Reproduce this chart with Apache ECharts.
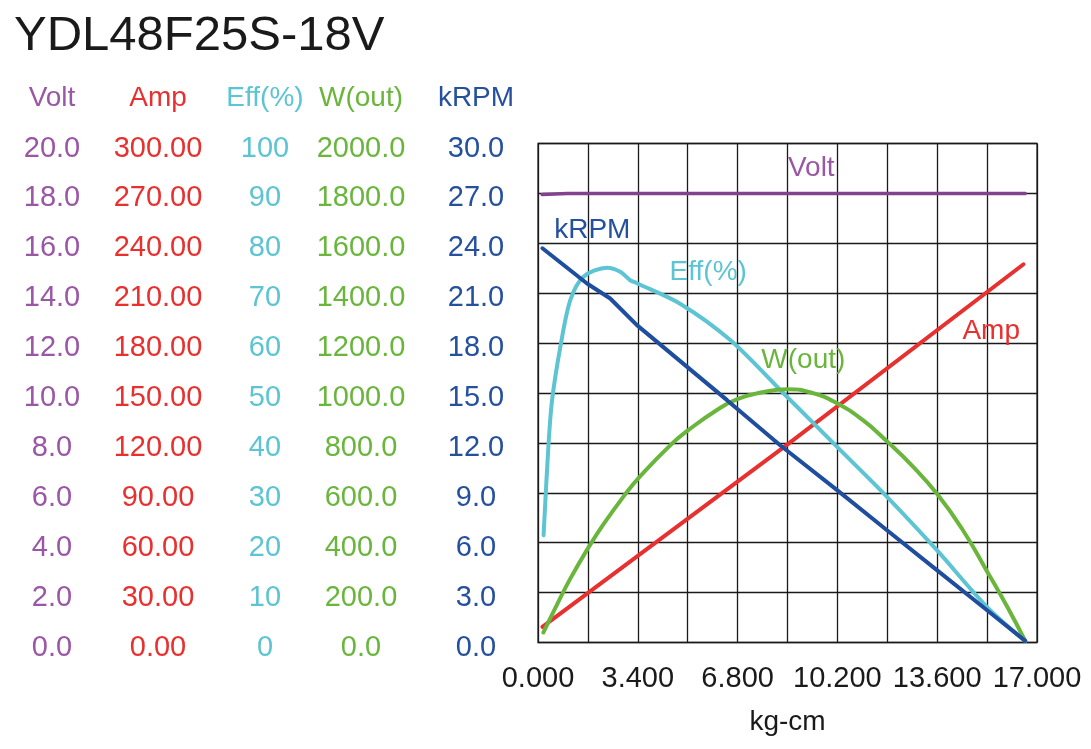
<!DOCTYPE html>
<html>
<head>
<meta charset="utf-8">
<title>YDL48F25S-18V</title>
<script src="https://cdn.jsdelivr.net/npm/echarts@6/dist/echarts.min.js"></script>
<style>
  html, body { margin: 0; padding: 0; background: #fff; }
  #main { width: 1091px; height: 749px; }
</style>
</head>
<body>
<div id="main"></div>
<script>
// 曲线数据 (横轴 kg-cm)
let voltTorque = [0.14, 1.0, 5.0, 10.0, 16.6];
let voltValues = [17.96, 18.0, 18.0, 18.0, 18.0];

let ampTorque = [0.15, 8.49, 16.54];
let ampValues = [9.4, 119.0, 227.4];

let effTorque = [0.19, 0.36, 0.48, 0.76, 1.10, 1.55, 2.35, 2.80, 3.14, 3.37, 4.84, 6.55, 8.37, 10.19, 11.89, 13.59, 15.30, 16.60];
let effValues = [21.5, 39.9, 48.6, 59.2, 68.6, 73.3, 75.1, 74.3, 72.6, 72.0, 67.9, 60.6, 49.9, 39.2, 29.2, 18.5, 7.1, 0.3];

let wTorque = [0.18, 0.66, 1.11, 1.70, 2.25, 2.99, 3.41, 4.52, 5.11, 6.11, 6.79, 7.65, 8.5, 9.35, 10.2, 11.05, 11.9, 12.75, 13.6, 14.45, 15.3, 16.0, 16.6];
let wValues = [40, 155, 258, 377, 477, 597, 657, 792, 850, 933, 975, 1003, 1015, 1000, 958, 893, 805, 708, 595, 455, 285, 140, 6];

let rpmTorque = [0.15, 1.67, 2.46, 3.37, 5.08, 6.44, 8.25, 10.19, 11.89, 13.59, 15.30, 16.60];
let rpmValues = [23.7, 21.58, 20.68, 19.08, 16.57, 14.57, 11.86, 9.16, 6.75, 4.35, 1.94, 0.1];

// 纵轴: 名称, 最大值, 小数位
let axisNames = ['Volt', 'Amp', 'Eff(%)', 'W(out)', 'kRPM'];
let axisMax = [20, 300, 100, 2000, 30];
let axisDigits = [1, 2, 0, 1, 1];
let colors = ['#9a57a5', '#e8302e', '#5cc4d2', '#6ab63d', '#25509e'];
let lineColors = ['#83428d', '#e8302e', '#5cc4d2', '#6ab63d', '#1f4e9e'];

// 图内标签位置 [kg-cm, 对应轴的值]
let tagCoords = [[9.31, 19.0], [15.44, 187.2], [5.80, 74.2], [9.04, 1131], [1.85, 24.8]];

function pairs(xs, ys) {
    let out = [];
    for (let i = 0; i < xs.length; i++) {
        out.push([xs[i], ys[i]]);
    }
    return out;
}

let myChart = echarts.init(document.getElementById('main'));

let gridLeft = 538;
let fontName = 'Liberation Sans, Arial, sans-serif';
// 每列刻度的中心 x
let labelCenters = [52, 158, 265, 361, 476];

let yAxes = [];
let headers = [];
for (let i = 0; i < axisNames.length; i++) {
    let d = axisDigits[i];
    yAxes.push({
        type: 'value',
        position: 'left',
        offset: gridLeft - labelCenters[i],
        min: 0,
        max: axisMax[i],
        interval: axisMax[i] / 10,
        axisLine: { show: false },
        axisTick: { show: false },
        splitLine: {
            show: i === 4,
            lineStyle: { color: '#1a1a1a', width: 1.3 }
        },
        axisLabel: {
            color: colors[i],
            fontSize: 29,
            fontFamily: fontName,
            align: 'center',
            verticalAlign: 'top',
            lineHeight: 10,
            margin: 0,
            formatter: function (v) { return v.toFixed(d); }
        }
    });
    // 列标题
    headers.push({
        type: 'text',
        style: {
            text: axisNames[i],
            x: labelCenters[i],
            y: 98,
            align: 'center',
            verticalAlign: 'middle',
            textAlign: 'center',
            textVerticalAlign: 'middle',
            fill: colors[i],
            font: '28px ' + fontName
        }
    });
}

let seriesData = [
    pairs(voltTorque, voltValues),
    pairs(ampTorque, ampValues),
    pairs(effTorque, effValues),
    pairs(wTorque, wValues),
    pairs(rpmTorque, rpmValues)
];
let smoothing = [false, false, 0.3, 0.5, false];
let widths = [3.5, 4, 4, 4, 4];

let series = [];
for (let i = 0; i < axisNames.length; i++) {
    series.push({
        name: axisNames[i],
        type: 'line',
        yAxisIndex: i,
        data: seriesData[i],
        smooth: smoothing[i],
        symbol: 'none',
        lineStyle: { color: lineColors[i], width: widths[i], cap: 'round' },
        z: 3,
        markPoint: {
            symbol: 'circle',
            symbolSize: 1,
            itemStyle: { color: 'rgba(0,0,0,0)' },
            label: {
                show: true,
                position: 'inside',
                color: colors[i],
                fontSize: 28,
                fontFamily: fontName,
                formatter: axisNames[i]
            },
            data: [{ coord: tagCoords[i] }]
        }
    });
}

let option = {
    animation: false,
    title: {
        text: 'YDL48F25S-18V',
        left: 9,
        top: 7,
        textStyle: {
            color: '#1a1a1a',
            fontSize: 49,
            fontWeight: 'normal',
            fontFamily: fontName
        }
    },
    graphic: headers,
    grid: {
        left: gridLeft,
        top: 143.5,
        right: 54,
        bottom: 106.5,
        show: true,
        borderColor: '#444',
        borderWidth: 1.5
    },
    xAxis: {
        type: 'value',
        min: 0,
        max: 17,
        interval: 1.7,
        name: 'kg-cm',
        nameLocation: 'middle',
        nameGap: 66,
        nameTextStyle: {
            color: '#1a1a1a',
            fontSize: 28,
            fontFamily: fontName
        },
        axisLine: { show: false },
        axisTick: { show: false },
        splitLine: { show: true, lineStyle: { color: '#1a1a1a', width: 1.3 } },
        axisLabel: {
            color: '#1a1a1a',
            fontSize: 29,
            fontFamily: fontName,
            margin: 22,
            showMinLabel: true,
            showMaxLabel: true,
            hideOverlap: false,
            formatter: function (v) {
                // 只显示每隔一个网格的刻度
                return Math.round(v / 1.7) % 2 === 0 ? v.toFixed(3) : '';
            }
        }
    },
    yAxis: yAxes,
    series: series
};

myChart.setOption(option);
</script>
</body>
</html>
